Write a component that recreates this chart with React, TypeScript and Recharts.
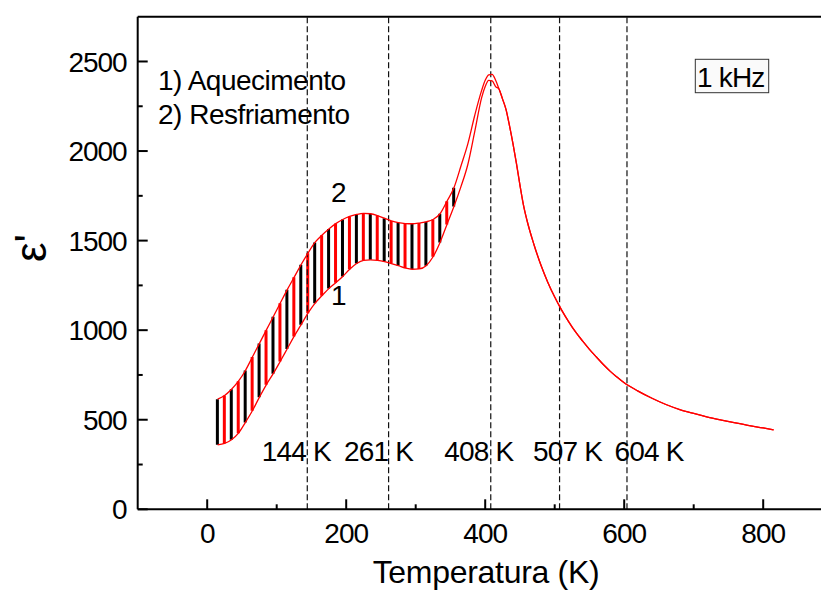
import React from "react";
import {
  Bar,
  Cell,
  ComposedChart,
  Line,
  ReferenceDot,
  ReferenceLine,
  XAxis,
  YAxis,
} from "recharts";

// temperatura (K)
const temperatures = [
  15, 25, 35, 45, 55, 65, 75, 85, 95, 105, 115, 125, 135, 145, 155, 165, 175, 185, 195, 205,
  215, 225, 235, 245, 255, 265, 275, 285, 295, 305, 315, 325, 335, 345, 355,
  365, 375, 385, 395, 400, 405, 410, 415, 420, 425, 430, 435, 440, 445, 450, 455, 460,
  470, 480, 490, 500, 510, 520, 530, 540, 550, 560, 570, 580, 590, 600,
  620, 640, 660, 680, 700, 720, 740, 760, 780, 800, 815,
];

// 1) aquecimento
const heating = [
  360, 368, 388, 425, 485, 550, 625, 695, 757, 825, 895, 965, 1030, 1095, 1150, 1192, 1232, 1265, 1300, 1340,
  1372, 1390, 1393, 1390, 1383, 1372, 1360, 1347, 1340, 1342, 1360, 1410, 1490, 1590, 1690,
  1800, 1925, 2110, 2300, 2360, 2395, 2392, 2360, 2345, 2290, 2231, 2140, 2040, 1930, 1810, 1700, 1615,
  1480, 1365, 1268, 1185, 1112, 1048, 990, 940, 893, 850, 808, 770, 737, 706,
  660, 620, 585, 557, 535, 515, 498, 482, 467, 454, 443,
];

// 2) resfriamento
const cooling = [
  615, 635, 670, 715, 775, 850, 925, 1000, 1075, 1150, 1225, 1295, 1365, 1430, 1490, 1530, 1565, 1595, 1618, 1635,
  1646, 1652, 1650, 1640, 1625, 1610, 1600, 1595, 1594, 1598, 1605, 1618, 1650, 1720, 1795,
  1915, 2040, 2200, 2340, 2395, 2425, 2428, 2395, 2345, 2290, 2231, 2140, 2040, 1930, 1810, 1700, 1615,
  1480, 1365, 1268, 1185, 1112, 1048, 990, 940, 893, 850, 808, 770, 737, 706,
  660, 620, 585, 557, 535, 515, 498, 482, 467, 454, 443,
];

const hatchLimit = 355;

const xTicks = [0, 100, 200, 300, 400, 500, 600, 700, 800];
const yTicks = [0, 250, 500, 750, 1000, 1250, 1500, 1750, 2000, 2250, 2500];

const transitions = [144, 261, 408, 507, 604];
const transitionLabels = ["144 K", "261 K", "408 K", "507 K", "604 K"];
const transitionLabelLevel = 270;

const curveTags = ["2", "1"];
const curveTagTemps = [178, 178];
const curveTagValues = [1717, 1141];

const legendLines = ["1) Aquecimento", "2) Resfriamento"];
const freqLabel = "1 kHz";

const FONT = "'Liberation Sans', Arial, sans-serif";
const labelShift = [-11, -10, -12, 8, 22];

const rows = temperatures.map((T, i) => ({
  T,
  heat: heating[i],
  cool: cooling[i],
  band: T <= hatchLimit ? [heating[i], cooling[i]] : null,
}));

// ticks point into the plot, minor ones shorter and without label
const YTick = (p: any) => {
  const v = p.payload.value;
  const major = v % 500 === 0;
  return (
    <g>
      <line x1={p.x} x2={p.x + (major ? 10 : 5)} y1={p.y} y2={p.y} stroke="#000" strokeWidth={2} />
      {major && (
        <text x={p.x - 11} y={p.y} dy="0.36em" textAnchor="end" fontSize={28} letterSpacing={-1} fontFamily={FONT} fill="#000">
          {v}
        </text>
      )}
    </g>
  );
};

const XTick = (p: any) => {
  const v = p.payload.value;
  const major = v % 200 === 0;
  return (
    <g>
      <line x1={p.x} x2={p.x} y1={p.y} y2={p.y - (major ? 10 : 5)} stroke="#000" strokeWidth={2} />
      {major && (
        <text x={p.x} y={p.y + 34} textAnchor="middle" fontSize={28} letterSpacing={-1} fontFamily={FONT} fill="#000">
          {v}
        </text>
      )}
    </g>
  );
};

export default function App() {
  return (
    <div style={{ position: "absolute", left: 0, top: 0, width: 821, height: 590, overflow: "hidden", background: "#fff" }}>
      <ComposedChart
        width={840}
        height={590}
        data={rows}
        margin={{ top: 16.7, right: 7.3, bottom: 0, left: 0 }}
      >
        <XAxis
          dataKey="T"
          type="number"
          domain={[-100, 900]}
          ticks={xTicks}
          interval={0}
          allowDataOverflow
          height={80.7}
          tickSize={0}
          tickMargin={0}
          tickLine={false}
          tick={<XTick />}
          axisLine={{ stroke: "#000", strokeWidth: 2 }}
        />
        <YAxis
          type="number"
          domain={[0, 2750]}
          ticks={yTicks}
          interval={0}
          allowDataOverflow
          width={137.7}
          tickSize={0}
          tickMargin={0}
          tickLine={false}
          tick={<YTick />}
          axisLine={{ stroke: "#000", strokeWidth: 2 }}
        />
        <ReferenceLine y={2750} stroke="#000" strokeWidth={2} />
        <ReferenceLine x={900} stroke="#000" strokeWidth={2} />
        {transitions.map((t) => (
          <ReferenceLine key={t} x={t} stroke="#111" strokeWidth={1.2} strokeDasharray="6 3" />
        ))}
        <Bar dataKey="band" barSize={3} isAnimationActive={false}>
          {rows.map((r, i) => (
            <Cell key={r.T} fill={i % 2 === 0 ? "#000" : "#ff0000"} />
          ))}
        </Bar>
        <Line dataKey="heat" type="monotone" stroke="#ff0000" strokeWidth={1.3} dot={false} isAnimationActive={false} />
        <Line dataKey="cool" type="monotone" stroke="#ff0000" strokeWidth={1.3} dot={false} isAnimationActive={false} />
        {transitions.map((t, i) => (
          <ReferenceDot
            key={"l" + t}
            x={t}
            y={transitionLabelLevel}
            r={0}
            shape={(p: any) => (
              <text x={p.cx + labelShift[i]} y={p.cy} textAnchor="middle" fontSize={28} letterSpacing={-0.8} fontFamily={FONT} fill="#000">
                {transitionLabels[i]}
              </text>
            )}
          />
        ))}
        {curveTags.map((tag, i) => (
          <ReferenceDot
            key={"c" + tag}
            x={curveTagTemps[i]}
            y={curveTagValues[i]}
            r={0}
            shape={(p: any) => (
              <text x={p.cx} y={p.cy} fontSize={28} fontFamily={FONT} fill="#000">
                {tag}
              </text>
            )}
          />
        ))}
        {legendLines.map((s, i) => (
          <text key={s} x={158} y={90 + i * 34} fontSize={28} letterSpacing={-0.5} fontFamily={FONT} fill="#000">
            {s}
          </text>
        ))}
        <rect x={695.3} y={59.3} width={73.4} height={33.4} fill="#fafafa" stroke="#333" strokeWidth={1} />
        <text x={697} y={87} fontSize={28} letterSpacing={-0.8} fontFamily={FONT} fill="#000">
          {freqLabel}
        </text>
        <text x={486} y={583} textAnchor="middle" fontSize={32} letterSpacing={-0.3} fontFamily={FONT} fill="#000">
          Temperatura (K)
        </text>
        <text x={46} y={248} textAnchor="middle" transform="rotate(-90 46 248)" fontSize={44} fontFamily={FONT} fill="#000">
          ε'
        </text>
      </ComposedChart>
    </div>
  );
}
